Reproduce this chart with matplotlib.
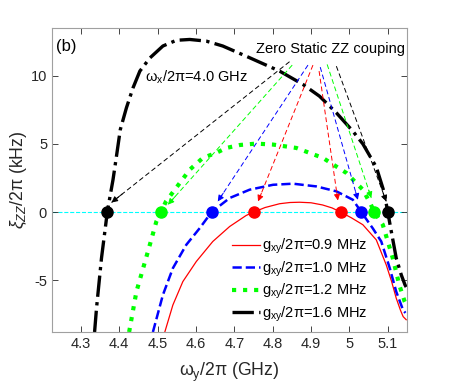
import matplotlib
matplotlib.use("Agg")
import matplotlib.pyplot as plt

plt.rcParams['font.family'] = ['Liberation Sans', 'DejaVu Sans']
plt.rcParams['mathtext.fontset'] = 'custom'
plt.rcParams['mathtext.rm'] = 'Liberation Sans'
plt.rcParams['mathtext.it'] = 'Liberation Sans:italic'
plt.rcParams['mathtext.bf'] = 'Liberation Sans:bold'

# curves (x in GHz, y in kHz)
red_x = [4.519, 4.540, 4.566, 4.601, 4.644, 4.688, 4.731, 4.751, 4.780, 4.818,
         4.845, 4.870, 4.900, 4.930, 4.955, 4.977, 5.005, 5.035, 5.070, 5.096,
         5.110, 5.122, 5.133, 5.140, 5.148]
red_y = [-8.8, -6.82, -5.1, -3.63, -2.16, -1.06, -0.25, 0.0, 0.33, 0.61,
         0.70, 0.72, 0.68, 0.52, 0.30, 0.0, -0.42, -0.93, -2.04, -3.88,
         -5.10, -6.32, -7.20, -7.67, -7.9]

blue_x = [4.488, 4.514, 4.540, 4.575, 4.610, 4.641, 4.688, 4.740, 4.801, 4.853,
          4.914, 4.966, 5.009, 5.031, 5.061, 5.083, 5.105, 5.122, 5.140, 5.146]
blue_y = [-8.8, -6.08, -4.12, -2.4, -1.18, 0.0, 1.03, 1.64, 2.0, 2.08,
          1.88, 1.52, 0.9, 0.0, -1.2, -2.16, -4.1, -5.84, -7.2, -7.4]

green_x = [4.426, 4.445, 4.480, 4.497, 4.509, 4.522, 4.558, 4.584, 4.618, 4.653,
           4.679, 4.715, 4.757, 4.801, 4.862, 4.931, 4.992, 5.035, 5.055, 5.065,
           5.087, 5.113, 5.130, 5.144, 5.148]
green_y = [-8.8, -5.84, -2.4, -0.69, 0.0, 0.78, 2.13, 3.11, 3.97, 4.34,
           4.70, 4.92, 5.02, 4.95, 4.70, 3.97, 2.87, 1.64, 0.6, 0.0,
           -0.93, -3.38, -5.35, -6.57, -6.8]

black_x = [4.336, 4.341, 4.354, 4.365, 4.369, 4.384, 4.393, 4.403, 4.419, 4.436,
           4.454, 4.480, 4.514, 4.549, 4.584, 4.627, 4.670, 4.740, 4.818, 4.879,
           4.922, 4.966, 5.009, 5.035, 5.070, 5.090, 5.100, 5.108, 5.122, 5.135,
           5.145, 5.148]
black_y = [-8.8, -7.06, -3.38, -0.93, 0.0, 2.37, 4.09, 6.05, 7.65, 9.1,
           10.34, 11.3, 12.18, 12.6, 12.66, 12.54, 12.18, 11.32, 10.34, 9.36,
           8.5, 7.28, 5.93, 5.0, 3.3, 1.5, 0.0, -1.25, -3.38, -4.6,
           -5.35, -5.5]

# zero-ZZ points
zero_x = [[4.751, 4.977], [4.641, 5.031], [4.509, 5.065], [4.369, 5.100]]

# dashed arrows from the annotation text to the zero points
arrow_x0 = [4.844, 4.851, 4.892, 4.905, 4.921, 4.924, 4.942, 4.966]
arrow_y0 = [11.03, 10.78, 10.78, 10.78, 10.34, 10.63, 10.83, 10.70]
arrow_x1 = [4.380, 4.527, 4.657, 4.762, 4.970, 5.022, 5.057, 5.096]
arrow_y1 = [0.70, 0.54, 0.78, 0.78, 0.85, 0.90, 1.03, 0.78]
arrow_c = ['k', '#00ff00', 'b', 'r', 'r', 'b', '#00ff00', 'k']

labels = [r'$\mathrm{g_{xy}/2\pi}$=0.9 MHz', r'$\mathrm{g_{xy}/2\pi}$=1.0 MHz',
          r'$\mathrm{g_{xy}/2\pi}$=1.2 MHz', r'$\mathrm{g_{xy}/2\pi}$=1.6 MHz']
colors = ['r', 'b', '#00ff00', 'k']

fig = plt.figure(figsize=(4.58, 3.87), dpi=100)
ax = fig.add_axes([0.1135, 0.1421, 0.7751, 0.7855])

ax.axhline(0, color='#00ffff', lw=0.8, ls='--', zorder=1)

ax.plot(red_x, red_y, '-', color='r', lw=0.9, label=labels[0])
ax.plot(blue_x, blue_y, '--', color='b', lw=1.8, label=labels[1])
ax.plot(green_x, green_y, ':', color='#00ff00', lw=3.0, label=labels[2])
ax.plot(black_x, black_y, '-.', color='k', lw=2.4, label=labels[3])

for i in range(len(arrow_x0)):
    ax.plot([arrow_x0[i], arrow_x1[i]], [arrow_y0[i], arrow_y1[i]], '--',
            color=arrow_c[i], lw=0.7, dashes=(5, 3))
    # short solid piece just for the arrow head
    bx = arrow_x1[i] + 0.06 * (arrow_x0[i] - arrow_x1[i])
    by = arrow_y1[i] + 0.06 * (arrow_y0[i] - arrow_y1[i])
    ax.annotate('', xy=(arrow_x1[i], arrow_y1[i]), xytext=(bx, by),
                arrowprops=dict(arrowstyle='-|>', color=arrow_c[i], lw=0.7,
                                mutation_scale=9, shrinkA=0, shrinkB=0))

for c, zx in zip(colors, zero_x):
    ax.plot(zx, [0, 0], 'o', color=c, ms=8, zorder=5)

ax.text(4.756, 11.93, 'Zero Static ZZ couping', fontsize=10.5, va='center')
ax.text(4.467, 9.87, r'$\mathrm{\omega_x/2\pi}$=4.0 GHz', fontsize=10.5, va='center')
ax.text(0.01, 0.965, '(b)', transform=ax.transAxes, fontsize=12, va='top')

ax.set_xlim(4.225, 5.15)
ax.set_ylim(-8.8, 13.5)
ax.set_xticks([4.3, 4.4, 4.5, 4.6, 4.7, 4.8, 4.9, 5.0, 5.1])
ax.set_xticklabels(['4.3', '4.4', '4.5', '4.6', '4.7', '4.8', '4.9', '5', '5.1'])
ax.set_yticks([-5, 0, 5, 10])
ax.set_yticklabels(['-5', '0', '5', '10'])
ax.tick_params(direction='in', top=True, right=True, length=4, width=0.6,
               labelsize=10.5, colors='#262626')
for s in ax.spines.values():
    s.set_color('#a0a0a0')
    s.set_linewidth(0.8)

ax.set_xlabel(r'$\mathrm{\omega_y/2\pi}$ (GHz)', fontsize=12.7, color='#262626',
              labelpad=7)
ax.set_ylabel(r'$\xi_{ZZ}\mathrm{/2\pi}$ (kHz)', fontsize=12.7, color='#262626',
              labelpad=1)

ax.legend(loc='lower left', bbox_to_anchor=(0.485, 0.0), frameon=False,
          fontsize=10.5, handlelength=1.9, handletextpad=0.15, labelspacing=0.22,
          borderaxespad=0.15)

fig.savefig('out.png', dpi=100)
